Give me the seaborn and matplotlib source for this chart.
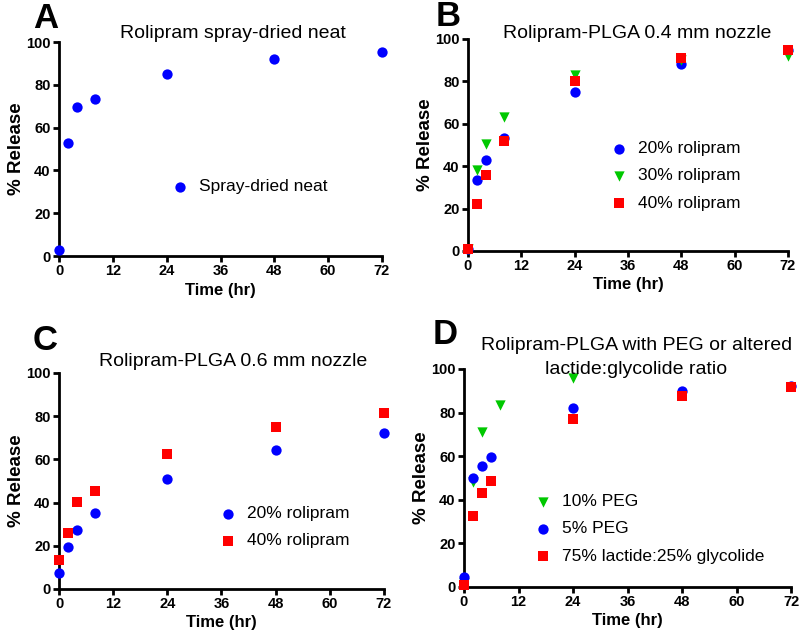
import matplotlib
matplotlib.use('Agg')
import matplotlib.pyplot as plt
import seaborn as sns

sns.set_style('ticks')
plt.rcParams['font.family'] = ['Liberation Sans', 'DejaVu Sans']
plt.rcParams.update({'text.color': 'black', 'axes.labelcolor': 'black',
                     'xtick.color': 'black', 'ytick.color': 'black',
                     'axes.edgecolor': 'black'})

# data
t_a = [0, 2, 4, 8, 24, 48, 72]
neat = [3, 53, 69.5, 73.5, 85, 92, 95.5]

t_b = [0, 2, 4, 8, 24, 48, 72]
b_20 = [1, 33.5, 43, 53.5, 75, 88, 95]
b_30 = [1, 38, 50.5, 63, 83, 90, 92]
b_40 = [1, 22, 36, 52, 80, 91, 95]

t_c = [0, 2, 4, 8, 24, 48, 72]
c_20 = [7.6, 19.5, 27.2, 35, 51, 64.4, 72.4]
c_40 = [13.3, 25.7, 40.1, 45.5, 62.4, 74.8, 81.3]

t_d10 = [0, 2, 4, 8, 24]
d_peg10 = [2, 48, 71, 83.6, 96]
t_d = [0, 2, 4, 6, 24, 48, 72]
d_peg5 = [4.5, 49.8, 55.5, 59.8, 82.2, 89.7, 92.3]
d_lg = [1, 32.5, 43, 48.6, 77, 87.7, 91.6]

BLUE, GREEN, RED = '#0000FF', '#00C800', '#FF0000'

W, H = 800, 640
fig = plt.figure(figsize=(8, 6.4), dpi=100)


def make_ax(left, top, right, bottom):
    return fig.add_axes([left / W, 1 - bottom / H, (right - left) / W, (bottom - top) / H])


def style(ax):
    ax.set_xlim(0, 72)
    ax.set_ylim(0, 100)
    ax.set_xticks(range(0, 73, 12))
    ax.set_yticks(range(0, 101, 20))
    sns.despine(ax=ax)
    for s in ['left', 'bottom']:
        ax.spines[s].set_linewidth(2)
    ax.tick_params(width=2, length=4, labelsize=10.5, pad=2)
    for lab in ax.get_xticklabels() + ax.get_yticklabels():
        lab.set_fontweight('bold')
    ax.set_xlabel('Time (hr)', fontsize=12, fontweight='bold', labelpad=3)
    ax.set_ylabel('% Release', fontsize=13.5, fontweight='bold', labelpad=1)


def pts(ax, x, y, color, marker, label, size=55):
    sns.scatterplot(x=x, y=y, color=color, marker=marker, s=size, linewidth=0,
                    label=label, ax=ax, clip_on=False, zorder=3)


def leg(ax, x, y):
    ax.legend(loc='upper left', bbox_to_anchor=(x / W, 1 - y / H),
              bbox_transform=fig.transFigure, frameon=False, fontsize=12.5,
              handlelength=1.0, handletextpad=0.6, labelspacing=0.7,
              borderaxespad=0, borderpad=0)


# A
ax = make_ax(59, 42, 382, 256)
pts(ax, t_a, neat, BLUE, 'o', 'Spray-dried neat')
style(ax)
leg(ax, 171, 179)

# B
bx = make_ax(468, 39, 788, 251)
pts(bx, t_b, b_20, BLUE, 'o', '20% rolipram')
pts(bx, t_b, b_30, GREEN, 'v', '30% rolipram')
pts(bx, t_b, b_40, RED, 's', '40% rolipram', 50)
style(bx)
leg(bx, 610, 141)

# C
cx = make_ax(59, 373, 384, 589)
pts(cx, t_c, c_20, BLUE, 'o', '20% rolipram')
pts(cx, t_c, c_40, RED, 's', '40% rolipram', 50)
style(cx)
leg(cx, 219, 506)

# D
dx = make_ax(464, 369, 791, 587)
pts(dx, t_d10, d_peg10, GREEN, 'v', '10% PEG')
pts(dx, t_d, d_peg5, BLUE, 'o', '5% PEG')
pts(dx, t_d, d_lg, RED, 's', '75% lactide:25% glycolide', 50)
style(dx)
leg(dx, 534, 494)


# titles and panel letters
def ftext(x, y, s, **kw):
    fig.text(x / W, 1 - y / H, s, **kw)


ftext(233, 34, 'Rolipram spray-dried neat', ha='center', va='center', fontsize=14)
ftext(637, 33, 'Rolipram-PLGA 0.4 mm nozzle', ha='center', va='center', fontsize=14)
ftext(233, 362, 'Rolipram-PLGA 0.6 mm nozzle', ha='center', va='center', fontsize=14)
ftext(637, 345, 'Rolipram-PLGA with PEG or altered', ha='center', va='center', fontsize=14)
ftext(636, 370, 'lactide:glycolide ratio', ha='center', va='center', fontsize=14)

for x, y, s in [(46, 18, 'A'), (448, 17, 'B'), (45, 340, 'C'), (445, 334, 'D')]:
    ftext(x, y, s, ha='center', va='center', fontsize=25, fontweight='bold')

fig.savefig('out.png', dpi=100)
